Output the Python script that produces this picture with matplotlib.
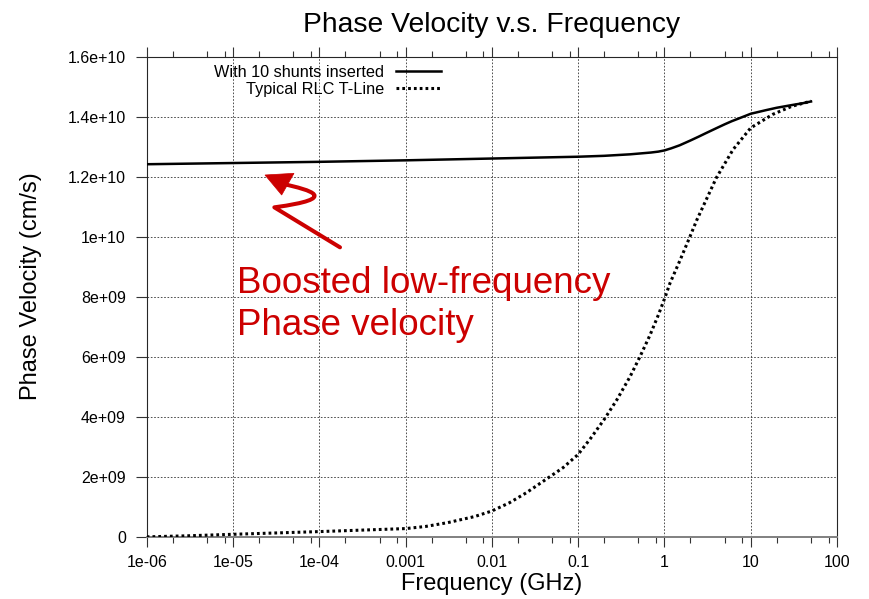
import matplotlib
matplotlib.use('Agg')
import matplotlib.pyplot as plt
from matplotlib.path import Path
from matplotlib.patches import PathPatch, Polygon
from matplotlib.ticker import FixedLocator, NullFormatter

plt.rcParams['font.family'] = ['Liberation Sans', 'DejaVu Sans']

# ---------------------------------------------------------------
# Data (frequency in GHz, velocity in cm/s)
# ---------------------------------------------------------------
freq_shunt = [1e-6, 1e-5, 1e-4, 1e-3, 1e-2, 0.1, 0.2, 0.4, 0.7, 0.85, 1.0, 1.2,
              1.5, 2.0, 2.5, 3.0, 4.0, 5.0, 6.0, 8.0, 10.0, 15.0, 20.0, 30.0,
              40.0, 50.0]
v_shunt = [1.242e10, 1.246e10, 1.250e10, 1.255e10, 1.261e10, 1.267e10, 1.270e10,
           1.275e10, 1.281e10, 1.284e10, 1.288e10, 1.295e10, 1.305e10, 1.321e10,
           1.334e10, 1.345e10, 1.362e10, 1.375e10, 1.385e10, 1.399e10, 1.410e10,
           1.422e10, 1.430e10, 1.439e10, 1.445e10, 1.451e10]

freq_rlc = [1e-6, 3e-6, 1e-5, 1e-4, 1e-3, 1.7e-3, 3.1e-3, 6.3e-3, 1e-2, 1.6e-2,
            2.5e-2, 4.5e-2, 6.7e-2, 0.1, 0.14, 0.2, 0.28, 0.4, 0.52, 0.68, 0.85,
            1.02, 1.16, 1.52, 1.95, 2.37, 3.04, 4.0, 6.25, 10.0, 18.0, 30.0, 50.0]
v_rlc = [1.5e7, 5e7, 1.0e8, 1.9e8, 2.9e8, 3.6e8, 4.9e8, 6.9e8, 8.75e8, 1.15e9,
         1.48e9, 1.98e9, 2.32e9, 2.76e9, 3.3e9, 3.92e9, 4.57e9, 5.35e9, 6.01e9,
         6.73e9, 7.4e9, 8.0e9, 8.46e9, 9.23e9, 9.97e9, 1.056e10, 1.123e10,
         1.197e10, 1.291e10, 1.363e10, 1.408e10, 1.435e10, 1.452e10]

labels = ['With 10 shunts inserted', 'Typical RLC T-Line']

xticks = [1e-6, 1e-5, 1e-4, 1e-3, 1e-2, 0.1, 1, 10, 100]
xtick_labels = ['1e-06', '1e-05', '1e-04', '0.001', '0.01', '0.1', '1', '10', '100']
yticks = [0, 2e9, 4e9, 6e9, 8e9, 1e10, 1.2e10, 1.4e10, 1.6e10]
ytick_labels = ['0', '2e+09', '4e+09', '6e+09', '8e+09', '1e+10', '1.2e+10', '1.4e+10', '1.6e+10']

W, H = 869, 599
def fx(x, y):
    # pixel position (from top left) -> figure fraction
    return (x / W, 1 - y / H)

fig = plt.figure(figsize=(W / 100, H / 100), dpi=100)
ax = fig.add_axes([146.7 / W, 1 - 537.3 / H, (837 - 146.7) / W, (537.3 - 56.7) / H])

# Curves
ax.plot(freq_shunt, v_shunt, color='black', lw=1.8, label=labels[0], zorder=3)
ax.plot(freq_rlc, v_rlc, color='black', lw=2.2, linestyle=(0, (0.9, 1.0)), label=labels[1], zorder=3)

# Axes, ticks, grid
ax.set_xscale('log')
ax.set_xlim(1e-6, 100)
ax.set_ylim(0, 1.6e10)
ax.set_xticks(xticks)
ax.set_xticklabels(xtick_labels)
minors = [m * 10.0 ** k for k in range(-6, 2) for m in (2, 5, 8)]
ax.xaxis.set_minor_locator(FixedLocator(minors))
ax.xaxis.set_minor_formatter(NullFormatter())
ax.set_yticks(yticks)
ax.set_yticklabels(ytick_labels)

ax.tick_params(axis='x', which='both', direction='out', top=True, bottom=True, color='0.2')
ax.tick_params(axis='x', which='major', length=7.5, width=0.8, labelsize=11.5, pad=5)
ax.tick_params(axis='x', which='minor', length=4, width=0.8)
ax.tick_params(axis='y', which='major', direction='out', length=8, width=0.8,
               labelsize=11.5, pad=7, right=False, color='0.2')

ax.grid(True, which='major', color='0.2', linestyle=(0, (2, 2)), linewidth=0.6)
ax.set_axisbelow(True)

for s in ['top', 'left', 'right']:
    ax.spines[s].set_linewidth(0.8)
    ax.spines[s].set_color('0.15')
ax.spines['bottom'].set_linewidth(1.4)
ax.spines['bottom'].set_color('0.5')

# Titles / labels
ax.set_title('Phase Velocity v.s. Frequency', fontsize=20.3, pad=18)
ax.set_xlabel('Frequency (GHz)', fontsize=17)
ax.xaxis.set_label_coords(0.5, -0.075)
ax.set_ylabel('Phase Velocity (cm/s)', fontsize=17)
ax.yaxis.set_label_coords(-0.152, 0.523)

# Legend (text right-aligned, sample on the right)
leg = ax.legend(loc='upper right', bbox_to_anchor=fx(441, 65), bbox_transform=fig.transFigure,
                frameon=False, fontsize=11.7, markerfirst=False, handlelength=2.8,
                handletextpad=0.7, labelspacing=0.12, borderpad=0, borderaxespad=0)

# Red annotation
red = '#CC0000'
fig.text(*fx(237, 292.7), 'Boosted low-frequency', color=red, fontsize=26.5, va='baseline', ha='left')
fig.text(*fx(237, 335), 'Phase velocity', color=red, fontsize=26.5, va='baseline', ha='left')

def zp(sx, sy):
    # squiggle arrow points (measured on the zoomed crop)
    return fx(230 + sx / 3, 160 + sy / 3)

verts = [zp(330, 262), zp(133, 142), zp(335, 115), zp(240, 90), zp(160, 72)]
codes = [Path.MOVETO, Path.LINETO, Path.CURVE4, Path.CURVE4, Path.CURVE4]
fig.add_artist(PathPatch(Path(verts, codes), transform=fig.transFigure, facecolor='none',
                         edgecolor=red, lw=2.9, capstyle='round', joinstyle='round'))
fig.add_artist(Polygon([zp(105, 45), zp(192, 40), zp(155, 105)], closed=True,
                       transform=fig.transFigure, facecolor=red, edgecolor=red, lw=0.5))

plt.savefig('out.png', dpi=100)
